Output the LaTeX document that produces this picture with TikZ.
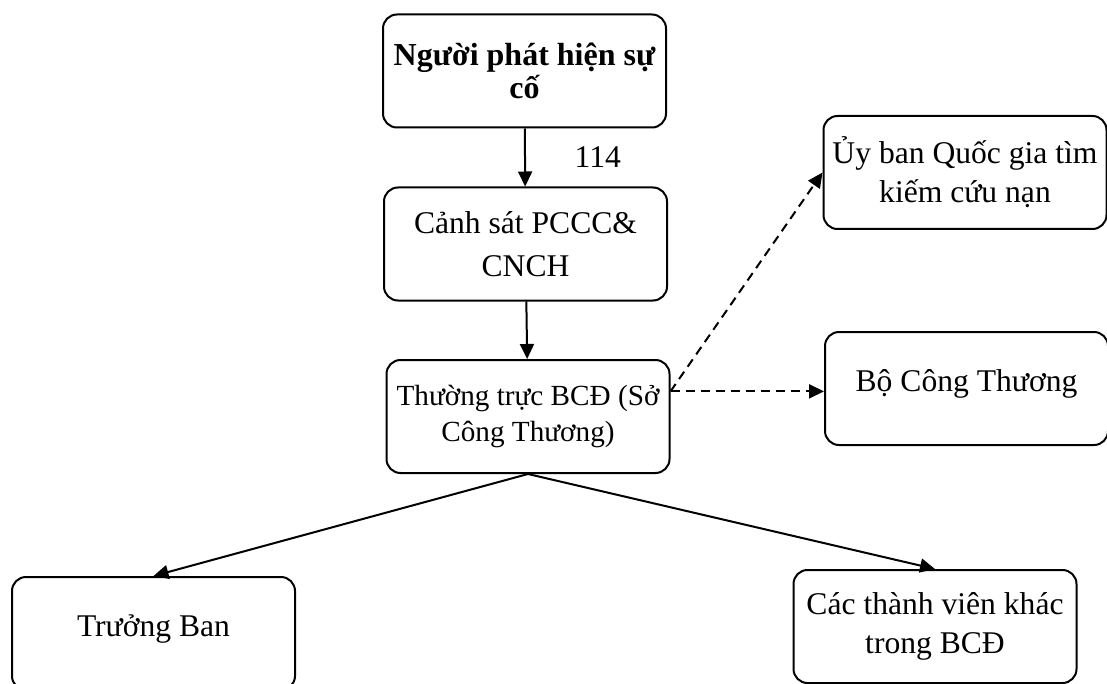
\documentclass[tikz,border=0pt]{standalone}
\usepackage{fontspec}
\setmainfont{Liberation Serif}
\usetikzlibrary{arrows.meta, calc}

\begin{document}
\begin{tikzpicture}[x=0.5pt, y=-0.5pt, font=\fontsize{15.8}{19.5}\selectfont,
    box/.style={draw, rounded corners=7pt, line width=1pt, minimum width=141.5pt, minimum height=56.5pt, align=center, inner sep=2pt},
    arr/.style={line width=1pt, -{Triangle[length=7.5pt, width=7pt]}},
    darr/.style={arr, dash pattern=on 4.5pt off 3pt}]
      \useasboundingbox (0, 0) rectangle (1107, 684);

      \node[box, font=\fontsize{16}{16.5}\selectfont\bfseries] (nguoi) at (524.5, 71) {Người phát hiện sự\\cố};
      \node[box, font=\fontsize{15.8}{21.5}\selectfont] (canhsat) at (525.5, 244) {Cảnh sát PCCC\&\\CNCH};
      \node[box, font=\fontsize{14.6}{18}\selectfont] (thuongtruc) at (528, 416.5) {Thường trực BCĐ (Sở\\Công Thương)};
      \node[box] (uyban) at (965, 172.5) {Ủy ban Quốc gia tìm\\kiếm cứu nạn};
      \node[box] (bocong) at (966.5, 388.5) {Bộ Công Thương\\[-12pt]\mbox{}};
      \node[box] (truongban) at (153.5, 633.5) {Trưởng Ban\\[-12pt]\mbox{}};
      \node[box] (thanhvien) at (935, 626.5) {Các thành viên khác\\trong BCĐ};

      \draw[arr] (nguoi) -- (canhsat) node[midway, right=21pt] {114};
      \draw[arr] (canhsat) -- (thuongtruc);
      \draw[darr] (thuongtruc.10) -- (uyban.west);
      \draw[darr] (thuongtruc.10) -- (thuongtruc.10 -| bocong.west);
      \draw[arr] (thuongtruc.south) -- (truongban.north);
      \draw[arr] (thuongtruc.south) -- (thanhvien.north);

    \end{tikzpicture}
\end{document}
